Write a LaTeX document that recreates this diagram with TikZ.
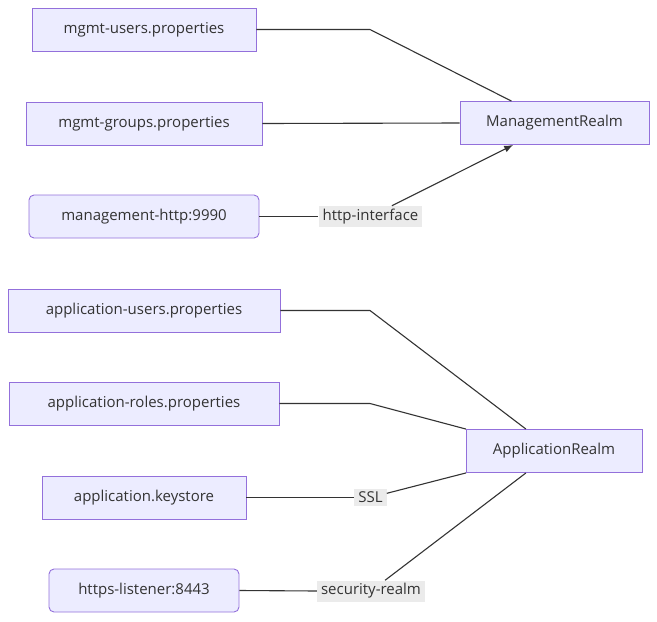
\documentclass[tikz,border=0pt]{standalone}
\usepackage{fontspec}
\setmainfont{Open Sans}
\usetikzlibrary{arrows.meta}
\definecolor{nodefill}{HTML}{ECECFF}
\definecolor{nodeline}{HTML}{9370DB}
\definecolor{edgeline}{HTML}{333333}
\definecolor{lblfill}{HTML}{EBEBEB}
\definecolor{txt}{HTML}{333333}
\tikzset{
  box/.style={draw=nodeline, fill=nodefill, line width=0.9pt, minimum height=43pt,
    inner xsep=10pt, text=txt, font=\fontsize{15}{18}\selectfont},
  rbox/.style={box, rounded corners=5pt},
  elabel/.style={fill=lblfill, inner xsep=4pt, inner ysep=3pt, text=txt,
    font=\fontsize{15}{18}\selectfont},
  link/.style={draw=edgeline, line width=1.1pt},
}
\begin{document}
\begin{tikzpicture}[x=1pt, y=-1pt]
\useasboundingbox (0,0) rectangle (657,622);
\node[box, minimum width=224pt] (musers) at (144,29.5) {mgmt-users.properties};
\node[box, minimum width=236pt] (mgroups) at (144,123.5) {mgmt-groups.properties};
\node[rbox, minimum width=230pt] (mhttp) at (144,216.5) {management-http:9990};
\node[box, minimum width=189pt] (mrealm) at (554.5,123) {ManagementRealm};
\node[box, minimum width=272pt] (ausers) at (144,310.5) {application-users.properties};
\node[box, minimum width=270pt] (aroles) at (144,403.5) {application-roles.properties};
\node[box, minimum width=204pt] (akeys) at (144,497.5) {application.keystore};
\node[rbox, minimum width=190pt] (https) at (144,590.5) {https-listener:8443};
\node[box, minimum width=176pt] (arealm) at (554,451) {ApplicationRealm};

\node[elabel] (lhttp) at (370.5,216.5) {http-interface};
\node[elabel] (lssl) at (370.5,497.5) {SSL};
\node[elabel] (lsec) at (371,591) {security-realm};

\draw[link] (musers.east) -- (370,29.5) -- (mrealm.153);
\draw[link] (mgroups.east) -- (mrealm.west);
\draw[link] (mhttp.east) -- (lhttp.west);
\draw[link, -{Latex[length=9pt,width=7pt]}] (lhttp) -- (mrealm.208);
\draw[link] (ausers.east) -- (370,310.5) -- (arealm.142);
\draw[link] (aroles.east) -- (370,403.5) -- (arealm.166);
\draw[link] (akeys.east) -- (lssl.west);
\draw[link] (lssl) -- (arealm.194);
\draw[link] (https.east) -- (lsec.west);
\draw[link] (lsec) -- (arealm.218);
\end{tikzpicture}
\end{document}
